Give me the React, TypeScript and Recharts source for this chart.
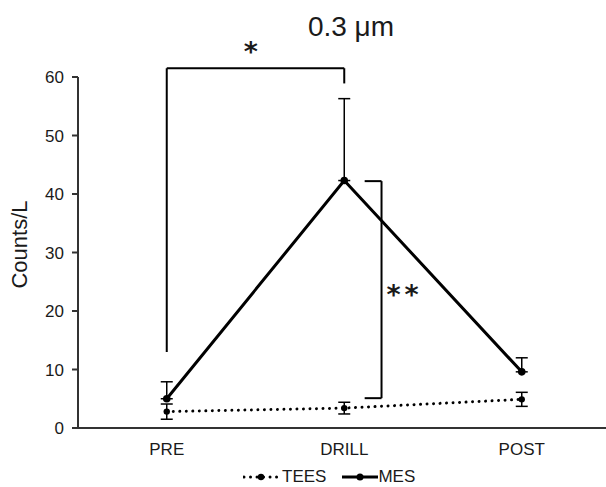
import React from 'react';
import {
  LineChart, Line, XAxis, YAxis, ErrorBar, ReferenceLine, ReferenceDot, Legend, Customized,
} from 'recharts';

const categories = ['PRE', 'DRILL', 'POST'];
const teesValues = [2.8, 3.4, 4.9];
const teesErrors = [1.3, 1.0, 1.2];
const mesValues = [5.0, 42.3, 9.6];
const mesErrorsUp = [2.9, 14.0, 2.4];
const yTicks = [0, 10, 20, 30, 40, 50, 60];

// significance brackets (polyline points in data units: [x index, y value])
const bracketOne: [number, number][] = [[0, 13], [0, 61.5], [1, 61.5], [1, 58.9]];
const bracketTwo: [number, number][] = [[1.115, 42.2], [1.21, 42.2], [1.21, 5.1], [1.115, 5.1]];
const starMarks = [
  { x: 0.485, y: 64.3, text: '*' },
  { x: 1.34, y: 22.8, text: '**' },
];

const FONT = '"Liberation Sans", Arial, sans-serif';
const STAR_FONT = '"DejaVu Sans", sans-serif';
const TEXT = '#1a1a1a';

const data = categories.map((name, i) => ({
  idx: i,
  name,
  TEES: teesValues[i],
  teesErr: teesErrors[i],
  MES: mesValues[i],
  mesErr: [0, mesErrorsUp[i]],
}));

const segs = (pts: [number, number][]) =>
  pts.slice(0, -1).map((p, i) => [
    { x: p[0], y: p[1] },
    { x: pts[i + 1][0], y: pts[i + 1][1] },
  ]);

const LegendContent = () => (
  <div style={{ display: 'flex', alignItems: 'center', height: 22, fontFamily: FONT, fontSize: 17, color: TEXT }}>
    <svg width={36} height={22}>
      <line x1={1} y1={11} x2={35} y2={11} stroke="#000" strokeWidth={3} strokeDasharray="0.01 6.5" strokeLinecap="round" />
      <circle cx={18} cy={11} r={3.2} fill="#000" />
    </svg>
    <span style={{ marginLeft: 3 }}>TEES</span>
    <svg width={36} height={22} style={{ marginLeft: 16 }}>
      <line x1={0} y1={11} x2={36} y2={11} stroke="#000" strokeWidth={3} />
      <circle cx={18} cy={11} r={3.5} fill="#000" />
    </svg>
    <span style={{ marginLeft: 0 }}>MES</span>
  </div>
);

const YLabel = (props: any) => {
  const vb = props.viewBox || { x: 18, y: 77, width: 60, height: 351 };
  const cx = vb.x + 1;
  const cy = vb.y + vb.height / 2 - 8;
  return (
    <text x={cx} y={cy} transform={`rotate(-90, ${cx}, ${cy})`} textAnchor="middle" dominantBaseline="central"
      fontFamily={FONT} fontSize={22} fill={TEXT}>Counts/L</text>
  );
};

export default function App() {
  return (
    <div style={{ position: 'fixed', left: 0, top: 0, width: 606, height: 487, overflow: 'hidden', background: '#fff' }}>
      <LineChart width={621} height={487} data={data} margin={{ top: 77, right: 10.5, bottom: 7, left: 18 }}>
        <XAxis
          dataKey="idx" type="number" domain={[-0.5, 2.5]} ticks={[0, 1, 2]}
          tickFormatter={(v: number) => categories[v]}
          axisLine={{ stroke: '#333', strokeWidth: 2 }} tickLine={false} tickSize={0} tickMargin={15} height={30}
          tick={{ fontFamily: FONT, fontSize: 17, fill: TEXT }}
        />
        <YAxis
          domain={[0, 60]} ticks={yTicks} width={60}
          axisLine={{ stroke: '#333', strokeWidth: 2 }} tickLine={{ stroke: '#333', strokeWidth: 2 }} tickSize={6} tickMargin={8}
          tick={{ fontFamily: FONT, fontSize: 17, fill: TEXT }}
          label={<YLabel />}
        />
        {segs(bracketOne).map((s, i) => (
          <ReferenceLine key={'b1' + i} segment={s} stroke="#000" strokeWidth={2} ifOverflow="visible" />
        ))}
        {segs(bracketTwo).map((s, i) => (
          <ReferenceLine key={'b2' + i} segment={s} stroke="#000" strokeWidth={2} ifOverflow="visible" />
        ))}
        {starMarks.map((m, i) => (
          <ReferenceDot key={'s' + i} x={m.x} y={m.y} r={0} fill="none" stroke="none" ifOverflow="visible"
            label={{ value: m.text, position: 'center', fontFamily: STAR_FONT, fontSize: 27, fontWeight: 'bold', fill: TEXT, letterSpacing: 4 }} />
        ))}
        <Line dataKey="TEES" stroke="#000" strokeWidth={3} strokeDasharray="0.01 6.5" strokeLinecap="round"
          dot={{ r: 3.2, fill: '#000', stroke: '#000', strokeWidth: 0, strokeDasharray: 'none' }} isAnimationActive={false}>
          <ErrorBar dataKey="teesErr" direction="y" width={6} stroke="#000" strokeWidth={1.5} />
        </Line>
        <Line dataKey="MES" stroke="#000" strokeWidth={3}
          dot={{ r: 3.8, fill: '#000', stroke: '#000', strokeWidth: 0 }} isAnimationActive={false}>
          <ErrorBar dataKey="mesErr" direction="y" width={6} stroke="#000" strokeWidth={1.5} />
        </Line>
        <Legend verticalAlign="bottom" content={<LegendContent />}
          wrapperStyle={{ left: 243, top: 466, width: 'auto', bottom: 'auto' }} />
        <Customized component={() => (
          <text x={351} y={26} textAnchor="middle" dominantBaseline="central" fontFamily={FONT} fontSize={28} fill={TEXT}>0.3 μm</text>
        )} />
      </LineChart>
    </div>
  );
}
